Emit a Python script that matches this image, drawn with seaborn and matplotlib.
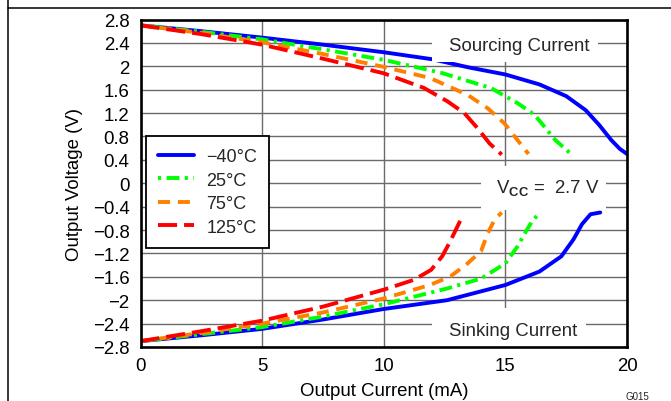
import matplotlib
matplotlib.use("Agg")
import matplotlib.pyplot as plt
from matplotlib.lines import Line2D
from matplotlib.patches import Rectangle
import seaborn as sns
import pandas as pd

# ---------------- data ----------------
temps = ["\u221240\u00b0C", "25\u00b0C", "75\u00b0C", "125\u00b0C"]

# Sourcing current (positive output voltage)
src_i_m40 = [0, 2.5, 5, 7.5, 10, 12, 13.5, 15, 16.4, 17.5, 18.3, 18.85, 19.35, 19.7, 20]
src_v_m40 = [2.70, 2.60, 2.49, 2.37, 2.24, 2.12, 1.98, 1.86, 1.69, 1.49, 1.25, 1.00, 0.74, 0.59, 0.50]
src_i_25 = [0, 2.5, 5, 7.5, 10, 12.35, 14.4, 15.5, 16.2, 16.6, 17.05, 17.7]
src_v_25 = [2.70, 2.59, 2.46, 2.29, 2.11, 1.89, 1.63, 1.37, 1.17, 0.97, 0.74, 0.50]
src_i_75 = [0, 2.5, 5, 7.5, 10, 11.9, 13.45, 14.28, 14.97, 15.4, 15.95]
src_v_75 = [2.70, 2.57, 2.41, 2.21, 1.99, 1.80, 1.51, 1.28, 1.02, 0.79, 0.50]
src_i_125 = [0, 2.5, 5, 7.5, 10, 11.65, 12.62, 13.31, 13.86, 14.35, 14.85]
src_v_125 = [2.70, 2.55, 2.37, 2.13, 1.88, 1.63, 1.40, 1.20, 0.94, 0.68, 0.49]

# Sinking current (negative output voltage)
snk_i_m40 = [0, 2.5, 5, 7.5, 10, 12.6, 15, 16.4, 17.3, 17.8, 18.15, 18.5, 18.9]
snk_v_m40 = [-2.70, -2.60, -2.49, -2.33, -2.15, -2.00, -1.74, -1.51, -1.25, -0.96, -0.70, -0.53, -0.50]
snk_i_25 = [0, 2.5, 5, 7.5, 10, 12.6, 14.0, 15.0, 15.5, 15.85, 16.1, 16.35]
snk_v_25 = [-2.70, -2.58, -2.46, -2.28, -2.07, -1.80, -1.63, -1.37, -1.08, -0.82, -0.65, -0.53]
snk_i_75 = [0, 2.5, 5, 7.5, 10, 11.9, 12.75, 13.45, 14.0, 14.28, 14.56, 14.85]
snk_v_75 = [-2.70, -2.56, -2.40, -2.21, -1.97, -1.74, -1.59, -1.37, -1.16, -0.85, -0.62, -0.50]
snk_i_125 = [0, 2.5, 5, 7.5, 10, 11.25, 11.95, 12.4, 12.7, 12.97, 13.25]
snk_v_125 = [-2.70, -2.53, -2.35, -2.11, -1.82, -1.65, -1.48, -1.25, -1.02, -0.79, -0.55]

x_ticks = [0, 5, 10, 15, 20]
y_ticks = [2.8, 2.4, 2.0, 1.6, 1.2, 0.8, 0.4, 0.0, -0.4, -0.8, -1.2, -1.6, -2.0, -2.4, -2.8]

# ---------------- table ----------------
series = [
    (temps[0], "source", src_i_m40, src_v_m40), (temps[0], "sink", snk_i_m40, snk_v_m40),
    (temps[1], "source", src_i_25, src_v_25), (temps[1], "sink", snk_i_25, snk_v_25),
    (temps[2], "source", src_i_75, src_v_75), (temps[2], "sink", snk_i_75, snk_v_75),
    (temps[3], "source", src_i_125, src_v_125), (temps[3], "sink", snk_i_125, snk_v_125),
]
rows = []
for t, br, xs, ys in series:
    for xv, yv in zip(xs, ys):
        rows.append({"temp": t, "branch": br, "current": xv, "voltage": yv})
df = pd.DataFrame(rows)

colors = ["#0000FF", "#00FF00", "#FF8000", "#FF0000"]
dash_list = ["", (0.8, 1.4, 3.3, 1.4), (3.1, 2.0), (4.9, 1.8)]
palette = dict(zip(temps, colors))
dashes = dict(zip(temps, dash_list))
LW = 2.8
FS = 13.4

# ---------------- style ----------------
sns.set_theme(style="white")
plt.rcParams["font.family"] = ["Liberation Sans", "DejaVu Sans"]
plt.rcParams["mathtext.fontset"] = "custom"
plt.rcParams["mathtext.rm"] = "Liberation Sans"
plt.rcParams["mathtext.bf"] = "Liberation Sans:bold"
plt.rcParams["axes.unicode_minus"] = True

fig = plt.figure(figsize=(6.71, 4.02), dpi=100)
ax = fig.add_axes([140.5 / 671, 1 - 348 / 402, (627 - 140.5) / 671, (348 - 20.5) / 402])

sns.lineplot(data=df, x="current", y="voltage", hue="temp", style="temp",
             units="branch", estimator=None, sort=False,
             hue_order=temps, style_order=temps,
             palette=palette, dashes=dashes, linewidth=LW,
             legend=False, ax=ax, zorder=3)

ax.set_xlim(0, 20)
ax.set_ylim(-2.8, 2.8)
ax.set_xticks(x_ticks)
ax.set_xticklabels([f"{v:g}" for v in x_ticks])
ax.set_yticks(y_ticks)
ax.set_yticklabels([f"{v:g}".replace("-", "\u2212") for v in y_ticks])
ax.tick_params(axis="both", length=0, labelsize=FS, colors="black")
ax.tick_params(axis="y", pad=8.0)
ax.tick_params(axis="x", pad=7.3)

ax.set_axisbelow(True)
ax.grid(True, color="#6a6a6a", linewidth=1.0)

for sp in ax.spines.values():
    sp.set_visible(True)
    sp.set_color("black")
    sp.set_linewidth(1.9)
    sp.set_zorder(7)

ax.set_xlabel("Output Current (mA)", fontsize=FS, color="black")
ax.set_ylabel("Output Voltage (V)", fontsize=FS, color="black")
ax.xaxis.set_label_coords(0.5, -0.106)
ax.yaxis.set_label_coords(-0.118, 0.5)

# white label boxes (interrupt grid and curves like the reference)
for (x0, y0, x1, y1) in [(12.0, 2.07, 18.8, 2.8), (14.0, -0.46, 19.15, 0.3), (12.0, -2.8, 18.3, -2.13)]:
    ax.add_patch(Rectangle((x0, y0), x1 - x0, y1 - y0, facecolor="white",
                           edgecolor="none", zorder=4))

ax.annotate("Sourcing Current", xy=(15.55, 2.4), xytext=(0, -4.8), textcoords="offset points",
            ha="center", va="baseline", fontsize=FS, zorder=5)
ax.annotate("Sinking Current", xy=(15.32, -2.4), xytext=(0, -8.0), textcoords="offset points",
            ha="center", va="baseline", fontsize=FS, zorder=5)
ax.annotate(r"V$_{\mathbf{CC}}$ =  2.7 V", xy=(16.75, 0.0), xytext=(0, -6.6),
            textcoords="offset points", ha="center", va="baseline", fontsize=FS, zorder=5)

# legend
handles = []
for t, c, d in zip(temps, colors, dash_list):
    if d == "":
        h = Line2D([], [], color=c, lw=LW, linestyle="-")
    else:
        h = Line2D([], [], color=c, lw=LW, linestyle=(0, d))
    handles.append(h)
leg = ax.legend(handles=handles, labels=temps, loc="upper left",
                bbox_to_anchor=((146 - 140.5) / 486.5, (348 - 137) / 327.5),
                borderaxespad=0, fontsize=13, frameon=True, fancybox=False,
                framealpha=1, edgecolor="black", handlelength=2.0,
                handletextpad=0.65, labelspacing=0.36, borderpad=0.68)
leg.get_frame().set_linewidth(1.3)
leg.set_zorder(8)

# figure frame lines (top and left) and figure code
fig.add_artist(Line2D([8 / 671, 8 / 671], [0, 1], color="black", lw=1.1, transform=fig.transFigure))
fig.add_artist(Line2D([8 / 671, 1], [1 - 8.5 / 402, 1 - 8.5 / 402], color="black", lw=1.1,
                      transform=fig.transFigure))
fig.text(637 / 671, 1 - 397 / 402, "G015", fontsize=7, ha="center", va="center")

fig.savefig("out.png", dpi=100)
